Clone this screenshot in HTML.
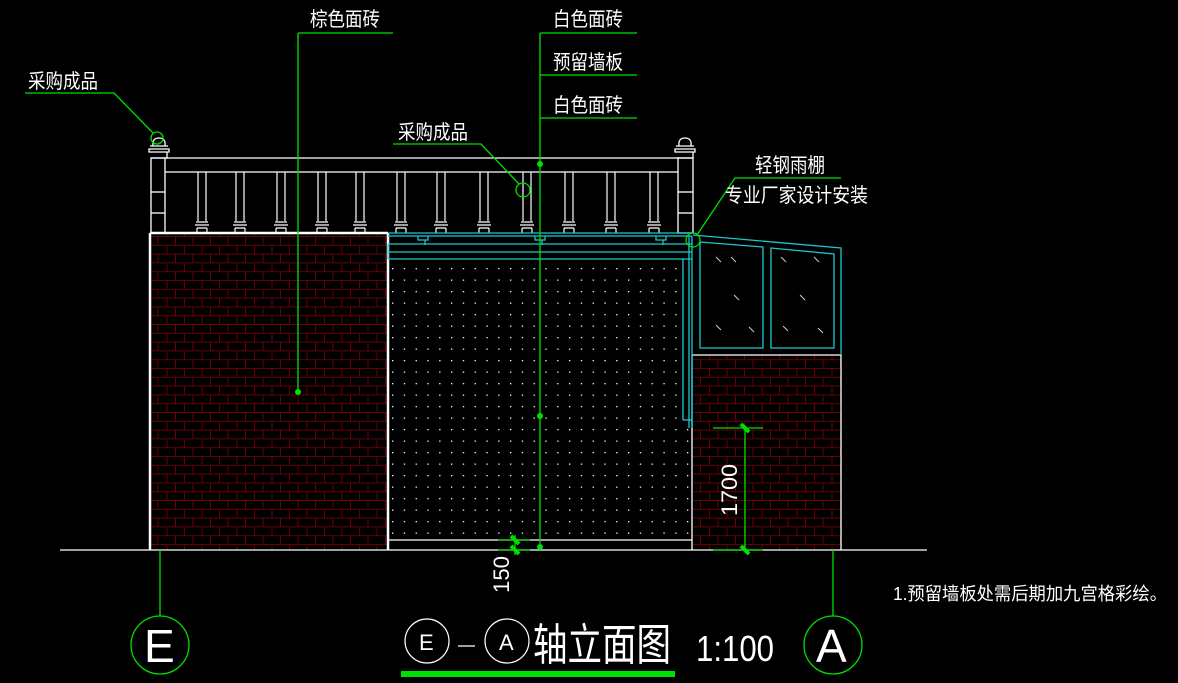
<!DOCTYPE html>
<html><head><meta charset="utf-8"><style>
html,body{margin:0;padding:0;background:#000;}
svg{display:block;}
text{font-family:"Liberation Sans","Noto Sans CJK SC",sans-serif;fill:#fff;}
</style></head><body>
<svg width="1178" height="683" viewBox="0 0 1178 683" xmlns="http://www.w3.org/2000/svg">
<defs>
<pattern id="brick" x="150" y="236" width="35" height="17.6" patternUnits="userSpaceOnUse">
<g stroke="#6a0000" stroke-width="1" fill="none">
<line x1="0" y1="0.5" x2="35" y2="0.5"/>
<line x1="0" y1="9.3" x2="35" y2="9.3"/>
<line x1="8" y1="0" x2="8" y2="9"/>
<line x1="25.5" y1="0" x2="25.5" y2="9"/>
<line x1="17" y1="9.3" x2="17" y2="17.6"/>
<line x1="34.5" y1="9.3" x2="34.5" y2="17.6"/>
</g></pattern>
<pattern id="dots" x="392" y="268" width="11.8" height="11.5" patternUnits="userSpaceOnUse">
<rect x="0" y="0" width="1.3" height="1.3" fill="#fff"/></pattern>
</defs>

<!-- brick walls -->
<rect x="150" y="234" width="238" height="316" fill="url(#brick)"/>
<rect x="692" y="355" width="149" height="195" fill="url(#brick)"/>
<!-- dots -->
<rect x="390" y="264" width="292" height="276" fill="url(#dots)"/>
<rect x="682" y="424" width="10" height="116" fill="url(#dots)"/>

<g stroke="#fff" fill="none" stroke-width="1.3">
<line x1="60" y1="550" x2="927" y2="550"/>
<line x1="150" y1="233" x2="150" y2="550" stroke-width="2.5"/>
<line x1="150" y1="233" x2="388" y2="233" stroke-width="2.5"/>
<line x1="388" y1="233" x2="388" y2="550" stroke-width="2.5"/>
<line x1="388" y1="540" x2="692" y2="540"/>
<line x1="692" y1="355" x2="692" y2="550"/>
<line x1="692" y1="355" x2="841" y2="355"/>
<line x1="841" y1="355" x2="841" y2="550"/>
<!-- balustrade -->
<line x1="165" y1="158" x2="678" y2="158"/>
<line x1="165" y1="172" x2="678" y2="172"/>
<rect x="151" y="158" width="14" height="75"/>
<line x1="151" y1="192" x2="165" y2="192"/><line x1="151" y1="213" x2="165" y2="213"/>
<rect x="678" y="158" width="15" height="75"/>
<line x1="678" y1="192" x2="693" y2="192"/><line x1="678" y1="213" x2="693" y2="213"/>
<!-- caps -->
<path d="M150 146h18M149 149h20v3h-20zM151 152h16v6h-16M153 146q-1-8 6-8q7 0 6 8"/>
<path d="M676 146h18M675 149h20v3h-20zM677 152h16v6h-16M679 146q-1-8 6-8q7 0 6 8"/>
</g>
<g stroke="#fff" fill="none" stroke-width="1.2">
<g id="bal">
<line x1="198" y1="172" x2="198" y2="221"/><line x1="206" y1="172" x2="206" y2="221"/>
<path d="M196 222h12M195 225h14M197 228h10M197 228v5M207 228v5"/>
</g>
<use href="#bal" x="38"/><use href="#bal" x="79"/><use href="#bal" x="120"/><use href="#bal" x="158"/><use href="#bal" x="199"/><use href="#bal" x="239"/><use href="#bal" x="282"/><use href="#bal" x="325"/><use href="#bal" x="367"/><use href="#bal" x="409"/><use href="#bal" x="452"/>
</g>

<!-- cyan -->
<g stroke="#19c8d0" fill="none" stroke-width="1.3">
<line x1="388" y1="236" x2="692" y2="236"/>
<line x1="388" y1="233" x2="692" y2="233"/>
<line x1="388" y1="244" x2="692" y2="244"/>
<line x1="388" y1="252" x2="692" y2="252"/>
<line x1="388" y1="259" x2="692" y2="259"/>
<line x1="388" y1="244" x2="388" y2="259"/>
<path d="M418 236v4h10v-4M421 240h4v5M535 236v4h10v-4M538 240h4v5M656 236v4h10v-4M659 240h4v5"/>
<line x1="689" y1="236" x2="689" y2="428"/>
<line x1="692" y1="236" x2="692" y2="428"/>
<line x1="683" y1="259" x2="683" y2="420"/><line x1="683" y1="420" x2="692" y2="420"/>
<polyline points="693,235 841,248 841,355"/>
<polygon points="700,242 763,247 763,348 700,348"/>
<polygon points="771,248 834,254 834,348 771,348"/>
</g>
<g stroke="#ccc" stroke-width="1">
<path d="M716 257l5 5M731 257l5 5M734 295l5 5M716 325l5 5M749 327l5 5M781 257l5 5M814 257l5 5M800 295l5 5M783 326l5 5M818 328l5 5"/>
</g>

<!-- green leaders -->
<g stroke="#00e000" fill="none" stroke-width="1.3">
<line x1="540" y1="33" x2="540" y2="547"/>
<line x1="540" y1="33" x2="637" y2="33"/>
<line x1="540" y1="75" x2="637" y2="75"/>
<line x1="540" y1="118" x2="637" y2="118"/>
<line x1="298" y1="33" x2="298" y2="392"/>
<line x1="298" y1="33" x2="393" y2="33"/>
<polyline points="25,93 114,93 153,133"/>
<circle cx="157" cy="138" r="6"/>
<polyline points="393,144 481,144 519,184"/>
<circle cx="523" cy="190" r="7"/>
<polyline points="841,178 735,178 697,235"/>
<circle cx="693" cy="240" r="7"/>
<line x1="160" y1="550" x2="160" y2="616"/>
<circle cx="160" cy="645" r="29"/>
<line x1="833" y1="550" x2="833" y2="616"/>
<circle cx="833" cy="645" r="29"/>
<line x1="745" y1="428" x2="745" y2="550"/>
<line x1="713" y1="428" x2="763" y2="428"/>
<line x1="713" y1="550" x2="763" y2="550"/>
<line x1="498" y1="540" x2="530" y2="540"/>
<line x1="498" y1="550" x2="530" y2="550"/>
<line x1="515" y1="535" x2="515" y2="555"/>
</g>
<g stroke="#00e000" stroke-width="4">
<line x1="741" y1="424" x2="749" y2="432"/>
<line x1="741" y1="546" x2="749" y2="554"/>
<line x1="511" y1="536" x2="519" y2="544"/>
<line x1="511" y1="546" x2="519" y2="554"/>
</g>
<g fill="#00e000"><circle cx="540" cy="164" r="3"/><circle cx="540" cy="416" r="3"/><circle cx="540" cy="547" r="3"/><circle cx="298" cy="392" r="3"/></g>
<rect x="401" y="671" width="274" height="6" fill="#00e000"/>

<!-- title -->
<g stroke="#fff" fill="none" stroke-width="1.2">
<circle cx="427" cy="641" r="22"/><circle cx="507" cy="641" r="22"/>
<line x1="458" y1="646" x2="475" y2="646"/>
</g>

<!-- text -->
<text x="310" y="26" font-size="20" textLength="70" lengthAdjust="spacingAndGlyphs">棕色面砖</text>
<text x="553" y="26" font-size="20" textLength="70" lengthAdjust="spacingAndGlyphs">白色面砖</text>
<text x="553" y="69" font-size="20" textLength="70" lengthAdjust="spacingAndGlyphs">预留墙板</text>
<text x="553" y="112" font-size="20" textLength="70" lengthAdjust="spacingAndGlyphs">白色面砖</text>
<text x="28" y="88" font-size="20" textLength="70" lengthAdjust="spacingAndGlyphs">采购成品</text>
<text x="398" y="139" font-size="20" textLength="70" lengthAdjust="spacingAndGlyphs">采购成品</text>
<text x="755" y="172" font-size="20" textLength="70" lengthAdjust="spacingAndGlyphs">轻钢雨棚</text>
<text x="725" y="202" font-size="20" textLength="143" lengthAdjust="spacingAndGlyphs">专业厂家设计安装</text>
<text x="893" y="600" font-size="18" textLength="274" lengthAdjust="spacingAndGlyphs">1.预留墙板处需后期加九宫格彩绘。</text>
<text x="0" y="0" font-size="22" transform="translate(737,516) rotate(-90)" textLength="52" lengthAdjust="spacingAndGlyphs">1700</text>
<text x="0" y="0" font-size="22" transform="translate(509,593) rotate(-90)" textLength="37" lengthAdjust="spacingAndGlyphs">150</text>
<text x="419" y="650" font-size="22">E</text>
<text x="499" y="650" font-size="22">A</text>
<text x="533" y="660" font-size="44" textLength="138" lengthAdjust="spacingAndGlyphs">轴立面图</text>
<text x="696" y="661" font-size="36" textLength="78" lengthAdjust="spacingAndGlyphs">1:100</text>
<text x="144" y="662" font-size="46" font-family="Liberation Serif">E</text>
<text x="816" y="662" font-size="46" font-family="Liberation Serif">A</text>
</svg>
</body></html>
